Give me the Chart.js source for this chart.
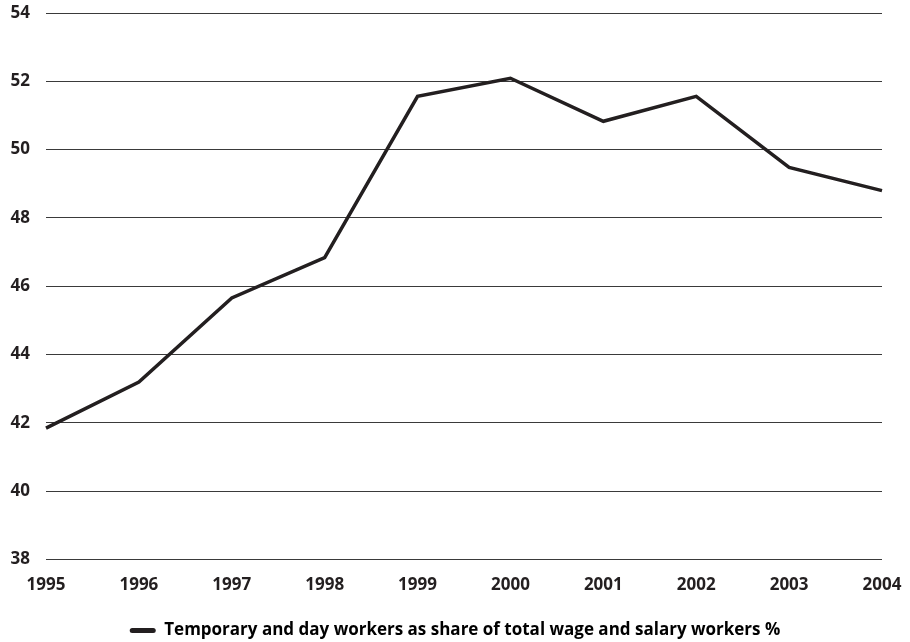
<!DOCTYPE html>
<html>
<head>
<meta charset="utf-8">
<script src="https://cdn.jsdelivr.net/npm/chart.js@4/dist/chart.umd.min.js"></script>
<style>
  html, body { margin: 0; padding: 0; background: #fff; overflow: hidden; }
  .frame { width: 910px; height: 642px; overflow: hidden; }
  .chart { width: 910px; height: 649px; position: relative; }
</style>
</head>
<body>
<div class="frame"><div class="chart"><canvas id="myChart"></canvas></div></div>
<script>
const years = ['1995', '1996', '1997', '1998', '1999', '2000', '2001', '2002', '2003', '2004'];
const tempShare = [41.85, 43.2, 45.66, 46.84, 51.56, 52.09, 50.83, 51.56, 49.48, 48.8];
const seriesName = 'Temporary and day workers as share of total wage and salary workers %';

const ink = '#231f20';
const labelFont = { family: "'Open Sans', 'Liberation Sans', sans-serif", size: 17, weight: 'bold' };

let ctx = document.querySelector('#myChart').getContext('2d');

let myChart = new Chart(ctx, {
    type: 'line',
    data: {
        labels: years,
        datasets: [{
            label: seriesName,
            data: tempShare,
            borderColor: ink,
            backgroundColor: ink,
            borderWidth: 3.5,
            pointRadius: 0,
            tension: 0
        }]
    },
    options: {
        responsive: true,
        maintainAspectRatio: false,
        animation: false,
        layout: { padding: 0 },
        scales: {
            x: {
                offset: false,
                grid: { display: false },
                border: { display: false },
                afterFit: scale => { scale.paddingRight = 28; },
                ticks: { color: ink, font: labelFont, maxRotation: 0, padding: 7 }
            },
            y: {
                min: 38,
                max: 54,
                afterFit: scale => { scale.width = 46; scale.paddingTop = 13; },
                grid: { color: '#3a3a3a', lineWidth: 1, drawTicks: false },
                border: { display: false },
                ticks: { stepSize: 2, color: ink, font: labelFont, padding: 16, align: 'center' }
            }
        },
        plugins: {
            legend: {
                position: 'bottom',
                labels: {
                    color: ink,
                    font: labelFont,
                    boxWidth: 26,
                    boxHeight: 5,
                    useBorderRadius: true,
                    borderRadius: 2.5,
                    padding: 20,
                    generateLabels: chart => chart.data.datasets.map((ds, i) => ({
                        text: ds.label,
                        fillStyle: ink,
                        strokeStyle: ink,
                        lineWidth: 0,
                        borderRadius: 2.5,
                        datasetIndex: i
                    }))
                }
            },
            tooltip: { enabled: false }
        }
    }
});
</script>
</body>
</html>
